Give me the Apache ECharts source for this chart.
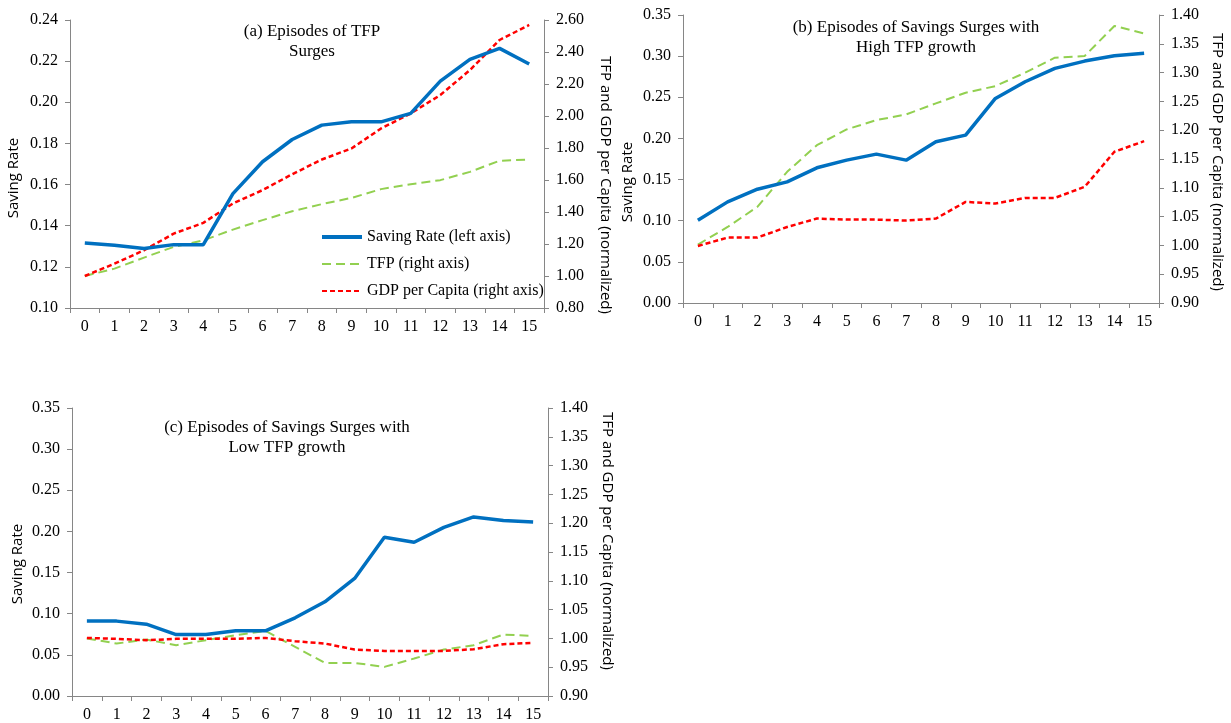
<!DOCTYPE html>
<html>
<head>
<meta charset="utf-8">
<script src="https://cdn.jsdelivr.net/npm/echarts@6/dist/echarts.min.js"></script>
<style>
  html, body { margin: 0; padding: 0; background: #fff; }
  #chart { width: 1231px; height: 723px; }
</style>
</head>
<body>
<div id="chart"></div>
<script>
// Years since the start of an episode
const periods = ['0','1','2','3','4','5','6','7','8','9','10','11','12','13','14','15'];

// (a) Episodes of TFP surges
const savingA = [0.1316,0.1305,0.1289,0.1308,0.1308,0.1556,0.1711,0.1819,0.1889,0.1905,0.1905,0.1946,0.2103,0.2209,0.2262,0.2186];
const tfpA    = [1.000,1.046,1.115,1.182,1.223,1.290,1.349,1.405,1.449,1.488,1.543,1.574,1.599,1.651,1.720,1.728];
const gdpA    = [1.000,1.077,1.161,1.265,1.332,1.453,1.537,1.636,1.728,1.797,1.922,2.016,2.131,2.287,2.475,2.569];

// (b) Savings surges with high TFP growth
const savingB = [0.1006,0.1229,0.1383,0.1472,0.1643,0.1736,0.1809,0.1736,0.1959,0.2040,0.2486,0.2689,0.2851,0.2940,0.3005,0.3034];
const tfpB    = [1.0014,1.032,1.0669,1.1277,1.174,1.2013,1.2175,1.2273,1.2465,1.265,1.2766,1.2998,1.3259,1.3288,1.381,1.368];
const gdpB    = [0.999,1.0136,1.0136,1.032,1.0466,1.0448,1.0448,1.0431,1.0466,1.0755,1.0727,1.0825,1.0825,1.1016,1.1625,1.181];

// (c) Savings surges with low TFP growth
const savingC = [0.0910,0.0910,0.0873,0.0747,0.0747,0.0792,0.0792,0.0950,0.1145,0.1429,0.1929,0.1868,0.2050,0.2176,0.2132,0.2115];
const tfpC    = [0.9998,0.9911,0.9980,0.9882,0.9969,1.0056,1.0131,0.9853,0.9574,0.9574,0.9505,0.9650,0.9806,0.9882,1.0067,1.0044];
const gdpC    = [1.0009,0.9992,0.9969,0.9992,0.9992,0.9992,1.0009,0.9951,0.9911,0.9806,0.9783,0.9783,0.9783,0.9812,0.9899,0.9922];

const NAME_SAVING = 'Saving Rate (left axis)';
const NAME_TFP = 'TFP (right axis)';
const NAME_GDP = 'GDP per Capita (right axis)';

const serif = '"Liberation Serif", "Times New Roman", serif';
const sans = '"Open Sans", "Noto Sans", sans-serif';
const axisGray = '#868686';

// Line styles shared by the plotted series and the legend keys
const styleSaving = { color: '#0070C0', width: 3.5 };
const styleTfp = { color: '#92D050', width: 2, type: [9, 5] };
const styleGdp = { color: '#FF0000', width: 2.5, type: [5, 3] };

const chart = echarts.init(document.getElementById('chart'));

function xAxisFor(gridIndex) {
  return {
    type: 'category', gridIndex, data: periods, boundaryGap: true,
    axisLine: { lineStyle: { color: axisGray, width: 1 } },
    axisTick: { show: true, length: 5, interval: 0, lineStyle: { color: axisGray } },
    axisLabel: { color: '#000', fontFamily: serif, fontSize: 16, margin: 11, interval: 0 },
    splitLine: { show: false }
  };
}

function yAxisFor(gridIndex, position, min, max, interval) {
  return {
    type: 'value', gridIndex, position, min, max, interval,
    axisLine: { show: true, lineStyle: { color: axisGray, width: 1 } },
    axisTick: { show: true, length: 5, lineStyle: { color: axisGray } },
    axisLabel: { color: '#000', fontFamily: serif, fontSize: 16, margin: 12,
                 formatter: v => v.toFixed(2) },
    splitLine: { show: false }
  };
}

function seriesFor(k, saving, tfp, gdp) {
  return [
    { name: NAME_SAVING, type: 'line', xAxisIndex: k, yAxisIndex: 2 * k, data: saving,
      symbol: 'none', lineStyle: styleSaving, itemStyle: { color: styleSaving.color }, z: 3 },
    { name: NAME_TFP, type: 'line', xAxisIndex: k, yAxisIndex: 2 * k + 1, data: tfp,
      symbol: 'none', lineStyle: styleTfp, itemStyle: { color: styleTfp.color }, z: 2 },
    { name: NAME_GDP, type: 'line', xAxisIndex: k, yAxisIndex: 2 * k + 1, data: gdp,
      symbol: 'none', lineStyle: styleGdp, itemStyle: { color: styleGdp.color }, z: 2 }
  ];
}

function titleText(x, y, text) {
  return { type: 'text', x, y, style: { text, fill: '#000', font: '17px ' + serif,
           align: 'center', verticalAlign: 'top', lineHeight: 20 } };
}

function axisName(x, y, text, rotation) {
  return { type: 'text', x, y, rotation, style: { text, fill: '#000', font: '15px ' + sans,
           align: 'center', verticalAlign: 'middle' } };
}

chart.setOption({
  animation: false,
  backgroundColor: '#fff',
  grid: [
    { left: 70, top: 20, width: 474, height: 288 },
    { left: 683, top: 15, width: 476, height: 288 },
    { left: 72, top: 408, width: 476, height: 288 }
  ],
  xAxis: [xAxisFor(0), xAxisFor(1), xAxisFor(2)],
  yAxis: [
    yAxisFor(0, 'left', 0.10, 0.24, 0.02),
    yAxisFor(0, 'right', 0.80, 2.60, 0.20),
    yAxisFor(1, 'left', 0, 0.35, 0.05),
    yAxisFor(1, 'right', 0.90, 1.40, 0.05),
    yAxisFor(2, 'left', 0, 0.35, 0.05),
    yAxisFor(2, 'right', 0.90, 1.40, 0.05)
  ],
  legend: {
    orient: 'vertical', left: 315, top: 224,
    data: [
      { name: NAME_SAVING, lineStyle: { width: 4 } },
      { name: NAME_TFP },
      { name: NAME_GDP }
    ],
    itemWidth: 40, itemHeight: 14, itemGap: 11,
    itemStyle: { opacity: 0 },
    textStyle: { fontFamily: serif, fontSize: 16, color: '#000' }
  },
  graphic: [
    titleText(312, 22, '(a) Episodes of TFP\nSurges'),
    titleText(916, 18, '(b) Episodes of Savings Surges with\nHigh TFP growth'),
    titleText(287, 418, '(c) Episodes of Savings Surges with\nLow TFP growth'),
    axisName(14, 178, 'Saving Rate', Math.PI / 2),
    axisName(605, 185, 'TFP and GDP per Capita (normalized)', -Math.PI / 2),
    axisName(628, 182, 'Saving Rate', Math.PI / 2),
    axisName(1217, 162, 'TFP and GDP per Capita (normalized)', -Math.PI / 2),
    axisName(18, 564, 'Saving Rate', Math.PI / 2),
    axisName(607, 541, 'TFP and GDP per Capita (normalized)', -Math.PI / 2)
  ],
  series: [
    ...seriesFor(0, savingA, tfpA, gdpA),
    ...seriesFor(1, savingB, tfpB, gdpB),
    ...seriesFor(2, savingC, tfpC, gdpC)
  ]
});
</script>
</body>
</html>
